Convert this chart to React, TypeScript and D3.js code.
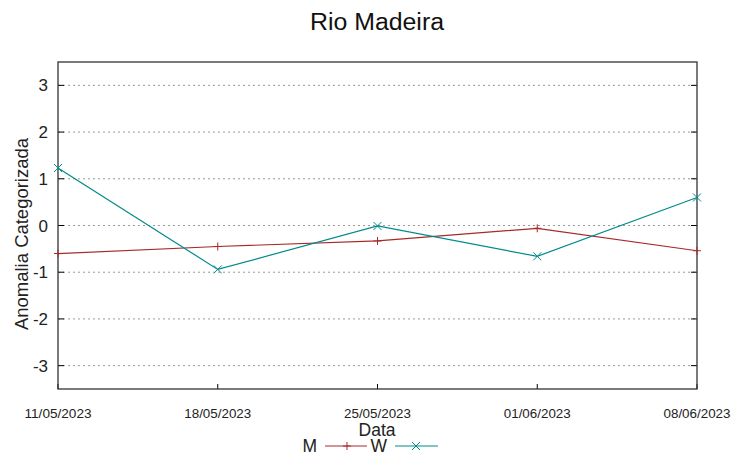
import React from "react";
import * as d3 from "d3";

const dates = ["11/05/2023", "18/05/2023", "25/05/2023", "01/06/2023", "08/06/2023"];
const seriesM = [-0.6, -0.45, -0.33, -0.06, -0.54];
const seriesW = [1.23, -0.94, -0.01, -0.66, 0.6];
const yTicks = [-3, -2, -1, 0, 1, 2, 3];

const W = 753, H = 459;
const L = 58, R = 697, T = 62, B = 389;

export default function App() {
  const x = d3.scalePoint<string>().domain(dates).range([L, R]);
  const y = d3.scaleLinear().domain([-3.5, 3.5]).range([B, T]);
  const line = d3.line<number>().x((_, i) => x(dates[i])!).y((d) => y(d));
  const red = "#a52a2a";
  const teal = "#008b8b";
  const font = "Liberation Sans, Arial, sans-serif";
  const plus = (cx: number, cy: number, c: string, k: string) => (
    <path key={k} d={`M${cx - 4},${cy}H${cx + 4}M${cx},${cy - 4}V${cy + 4}`} stroke={c} strokeWidth={1} />
  );
  const cross = (cx: number, cy: number, c: string, k: string) => (
    <path key={k} d={`M${cx - 4},${cy - 4}L${cx + 4},${cy + 4}M${cx - 4},${cy + 4}L${cx + 4},${cy - 4}`} stroke={c} strokeWidth={1} />
  );
  return (
    <svg width={W} height={H} style={{ position: "absolute", left: 0, top: 0, background: "#fff" }} fontFamily={font}>
      <rect width={W} height={H} fill="#fff" />
      <text x={377} y={30} textAnchor="middle" fontSize={23} fill="#111" textLength={134} lengthAdjust="spacingAndGlyphs">Rio Madeira</text>
      {yTicks.map((t) => (
        <g key={t}>
          <line x1={L} x2={R} y1={y(t)} y2={y(t)} stroke="#999" strokeWidth={1} strokeDasharray="2,3" />
          <line x1={L} x2={L + 6} y1={y(t)} y2={y(t)} stroke="#000" strokeWidth={1} />
          <line x1={R - 6} x2={R} y1={y(t)} y2={y(t)} stroke="#000" strokeWidth={1} />
          <text x={L - 10} y={y(t) + 6} textAnchor="end" fontSize={17} fill="#222">{t}</text>
        </g>
      ))}
      {dates.map((d) => (
        <g key={d}>
          <line x1={x(d)} x2={x(d)} y1={B} y2={B - 5} stroke="#000" strokeWidth={1} />
          <text x={x(d)} y={418} textAnchor="middle" fontSize={13} fill="#222" textLength={67} lengthAdjust="spacingAndGlyphs">{d}</text>
        </g>
      ))}
      <rect x={L} y={T} width={R - L} height={B - T} fill="none" stroke="#333" strokeWidth={1.3} />
      <path d={line(seriesM)!} fill="none" stroke={red} strokeWidth={1.2} />
      <path d={line(seriesW)!} fill="none" stroke={teal} strokeWidth={1.2} />
      {seriesM.map((v, i) => plus(x(dates[i])!, y(v), red, "m" + i))}
      {seriesW.map((v, i) => cross(x(dates[i])!, y(v), teal, "w" + i))}
      <text transform={`translate(28,234) rotate(-90)`} textAnchor="middle" fontSize={17.5} fill="#222" textLength={192} lengthAdjust="spacingAndGlyphs">Anomalia Categorizada</text>
      <text x={377} y={436} textAnchor="middle" fontSize={17.5} fill="#222">Data</text>
      <text x={317} y={452} textAnchor="end" fontSize={17.5} fill="#222">M</text>
      <line x1={325} x2={367} y1={446} y2={446} stroke={red} strokeWidth={1.2} />
      {plus(347, 446, red, "lm")}
      <text x={387} y={452} textAnchor="end" fontSize={17.5} fill="#222">W</text>
      <line x1={395} x2={438} y1={446} y2={446} stroke={teal} strokeWidth={1.2} />
      {cross(416, 446, teal, "lw")}
    </svg>
  );
}
